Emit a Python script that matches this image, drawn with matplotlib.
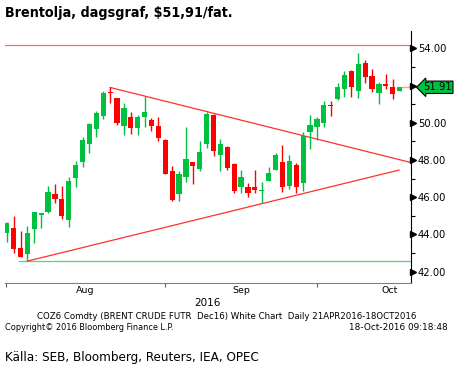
import numpy as np
import matplotlib
matplotlib.use("Agg")
import matplotlib.pyplot as plt
import matplotlib.transforms as mtransforms

# Daily Brent candles, Aug - Oct 2016
opens = [44.10, 44.35, 43.27, 42.97, 44.31, 45.04, 45.21, 46.16, 45.89, 44.79,
         47.01, 47.91, 48.88, 49.68, 50.38, 51.65, 51.33, 49.84, 50.29, 49.72,
         50.31, 50.15, 49.81, 49.07, 47.41, 46.19, 47.10, 47.89, 47.53, 48.88,
         50.42, 48.29, 48.72, 47.79, 46.57, 46.53, 46.53, 46.35, 46.89, 47.46,
         47.89, 46.60, 47.73, 46.78, 49.52, 49.76, 50.01, 50.94, 51.26, 51.80,
         52.78, 51.69, 53.19, 52.51, 51.62, 52.08, 51.94, 51.73]
highs = [44.67, 44.99, 44.19, 44.45, 45.21, 45.17, 46.60, 46.71, 46.60, 47.10,
         47.96, 49.25, 50.01, 50.63, 51.73, 51.90, 51.33, 51.06, 50.58, 50.42,
         51.44, 50.24, 50.29, 49.11, 47.68, 47.43, 49.77, 47.89, 49.02, 50.56,
         50.45, 49.15, 48.75, 47.82, 47.46, 46.75, 47.46, 46.84, 47.61, 48.36,
         48.81, 48.27, 47.86, 49.52, 50.42, 50.29, 51.19, 51.19, 52.12, 52.78,
         52.84, 53.77, 53.37, 52.87, 52.21, 52.64, 52.37, 51.94]
lows = [43.59, 43.02, 42.77, 42.57, 43.52, 44.36, 45.13, 45.71, 44.81, 44.42,
        46.57, 47.64, 48.36, 49.25, 50.19, 51.04, 49.88, 49.36, 49.40, 49.36,
        49.79, 49.58, 49.02, 47.25, 45.78, 45.81, 46.82, 46.71, 47.43, 48.66,
        48.21, 47.43, 47.46, 46.24, 46.21, 46.03, 46.21, 45.67, 46.89, 47.46,
        46.30, 46.42, 46.21, 46.35, 48.61, 49.07, 49.79, 50.38, 51.22, 51.37,
        51.40, 51.35, 52.16, 51.67, 51.01, 51.80, 51.26, 51.73]
closes = [44.63, 43.24, 42.81, 44.08, 45.21, 45.15, 46.28, 45.90, 45.01, 46.87,
          47.73, 49.07, 49.92, 50.53, 51.60, 51.62, 50.01, 50.78, 49.74, 50.29,
          50.58, 49.84, 49.16, 47.27, 45.87, 47.25, 48.05, 47.70, 48.43, 50.47,
          48.50, 48.86, 47.59, 46.35, 47.10, 46.24, 46.39, 46.39, 47.32, 48.27,
          46.53, 47.95, 46.57, 49.29, 49.86, 50.20, 50.96, 50.88, 51.90, 52.57,
          51.94, 53.18, 52.44, 51.83, 52.08, 51.99, 51.53, 51.91]

month_ticks = [-0.1, 23, 45]
month_label_pos = [11.4, 34.0, 55.5]
month_labels = ["Aug", "Sep", "Oct"]
y_ticks = [42, 44, 46, 48, 50, 52, 54]
last_price = 51.91

# drawn lines: resistance, support, trend lines
resist_level = 54.16
support_level = 42.57
upper_trend = ([15, 58.6], [51.90, 47.87])
lower_trend = ([3, 56.9], [42.57, 47.46])

GREEN = "#00c040"
RED = "#ff0000"
NARROW = dict(family="DejaVu Sans", stretch="condensed")

fig = plt.figure(figsize=(4.56, 3.70), dpi=100)
ax = fig.add_axes([0.011, 0.235, 0.890, 0.681])

x = np.arange(len(opens))
o = np.array(opens); c = np.array(closes)
h = np.array(highs); l = np.array(lows)
up = c >= o
cols = np.where(up, GREEN, RED)

ax.vlines(x, l, h, colors=cols, linewidth=1.0, zorder=3)
body_bot = np.minimum(o, c)
body_h = np.maximum(np.abs(c - o), 0.04)
ax.bar(x, body_h, bottom=body_bot, width=0.76, color=cols, linewidth=0, zorder=4)

ax.axhline(resist_level, color="#f07070", linewidth=0.9, zorder=2)
ax.plot([1.8, 58.6], [support_level, support_level], color="#40e070", linewidth=0.9, zorder=2)
ax.plot(*upper_trend, color="#ff3030", linewidth=0.9, zorder=2)
ax.plot(*lower_trend, color="#ff3030", linewidth=0.9, zorder=2)
ax.plot([57.3, 58.6], [last_price, last_price], color="#f0b060", linewidth=1.0, zorder=2)

ax.set_xlim(-0.25, 58.63)
ax.set_ylim(41.39, 54.93)

for s in ["top", "left"]:
    ax.spines[s].set_visible(False)
ax.spines["bottom"].set_color("#808080")
ax.spines["right"].set_color("black")

# x axis
ax.set_xticks(month_ticks)
ax.set_xticklabels([])
ax.tick_params(axis="x", direction="out", length=3, width=0.8, color="#606060")
xtrans = mtransforms.blended_transform_factory(ax.transData, ax.transAxes)
for xp, lab in zip(month_label_pos, month_labels):
    ax.text(xp, -0.013, lab, transform=xtrans, ha="center", va="top", fontsize=6.8)
fig.text(207.7 / 456, 1 - 303 / 370, "2016", ha="center", va="center", fontsize=7.5)

# y axis on the right, arrow ticks; 52.00 sits under the last-price tag
ax.yaxis.tick_right()
ax.set_yticks(y_ticks)
ax.set_yticks(np.arange(43, 55, 2), minor=True)
ax.set_yticklabels(["" if v == 52 else "%.2f" % v for v in y_ticks], fontsize=7.2)
ax.tick_params(axis="y", which="major", length=0, pad=5)
ax.tick_params(axis="y", which="minor", length=3, width=0.8, color="black")
trans = mtransforms.blended_transform_factory(ax.transAxes, ax.transData)
ax.plot([1.006] * len(y_ticks), y_ticks, marker=">", markersize=4, linestyle="none",
        color="black", transform=trans, clip_on=False)

ax.text(1.03, last_price, "%.2f" % last_price, transform=trans, ha="left", va="center",
        fontsize=7.2, color="black", clip_on=False,
        bbox=dict(boxstyle="larrow,pad=0.12", fc=GREEN, ec="black", lw=0.8))

# titles and footers
fig.text(5 / 456, 1 - 13 / 370, "Brentolja, dagsgraf, $51,91/fat.", ha="left", va="center",
         fontsize=10.3, fontweight="bold", **NARROW)
fig.text(227 / 456, 1 - 316.5 / 370,
         "COZ6 Comdty (BRENT CRUDE FUTR  Dec16) White Chart  Daily 21APR2016-18OCT2016",
         ha="center", va="center", fontsize=6.2)
fig.text(5 / 456, 1 - 327.5 / 370, "Copyright\u00a9 2016 Bloomberg Finance L.P.", ha="left",
         va="center", fontsize=5.9)
fig.text(448 / 456, 1 - 327.5 / 370, "18-Oct-2016 09:18:48", ha="right", va="center", fontsize=6.4)
fig.text(5 / 456, 1 - 357 / 370, "Källa: SEB, Bloomberg, Reuters, IEA, OPEC", ha="left",
         va="center", fontsize=9.6, **NARROW)

fig.savefig("out.png", dpi=100)
